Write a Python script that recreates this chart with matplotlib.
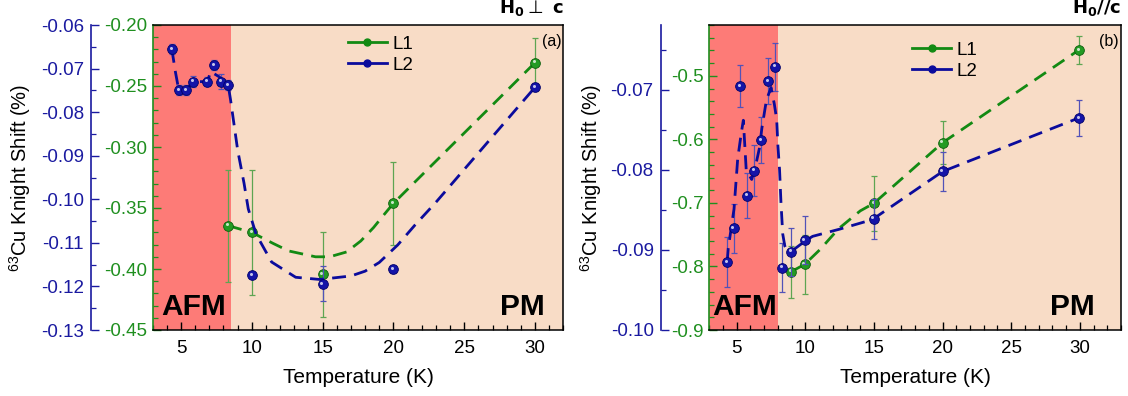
import matplotlib
matplotlib.use('Agg')
import matplotlib.pyplot as plt
from matplotlib.ticker import MultipleLocator, FormatStrFormatter
from matplotlib.lines import Line2D
from matplotlib.transforms import offset_copy

plt.rcParams['font.family'] = ['Liberation Sans', 'DejaVu Sans']
plt.rcParams['mathtext.fontset'] = 'custom'
plt.rcParams['mathtext.rm'] = 'Liberation Sans'
plt.rcParams['mathtext.it'] = 'Liberation Sans:italic'
plt.rcParams['mathtext.bf'] = 'Liberation Sans:bold'

# ---- panel (a): H0 perp c ----
Ta_L1 = [8.33, 10, 15, 20, 30]
Ka_L1 = [-0.3645, -0.370, -0.4044, -0.3462, -0.2309]
Ea_L1 = [0.046, 0.051, 0.035, 0.034, 0.0205]
Ta_L2 = [4.35, 4.84, 5.35, 5.84, 6.85, 7.35, 7.84, 8.33, 10, 15, 20, 30]
Ka_L2 = [-0.0655, -0.0749, -0.0749, -0.0730, -0.0730, -0.0692, -0.0730, -0.0738,
         -0.1174, -0.1194, -0.1160, -0.0743]
Ea_L2 = [0.00115, 0.0012, 0.0012, 0.0013, 0.0011, 0.0012, 0.0018, 0.0012,
         0.00065, 0.004, 0.0009, 0.0009]
# guide-to-the-eye curves
guide_a_T1 = [8.33, 10, 11.5, 12.6, 14.5, 15.5, 16.7, 17.7, 18.6, 19.3, 20, 30]
guide_a_K1 = [-0.3645, -0.370, -0.379, -0.3852, -0.390, -0.390, -0.386, -0.377,
              -0.366, -0.356, -0.3462, -0.2309]
guide_a_T2 = [4.35, 4.6, 4.84, 5.35, 5.84, 6.85, 7.1, 7.7, 8.0, 8.33, 8.5, 9.0, 9.45,
              9.75, 10.3, 11.4, 13.1, 14.8, 17.0, 18.0, 19.0, 20.3, 21.5, 23.0, 30.0]
guide_a_K2 = [-0.0655, -0.0707, -0.0749, -0.0749, -0.0730, -0.0730, -0.0707, -0.0719,
              -0.0728, -0.0738, -0.0772, -0.0887, -0.0963, -0.1022, -0.1080, -0.1144,
              -0.1179, -0.1184, -0.1176, -0.1165, -0.1145, -0.1105, -0.1060, -0.1007, -0.0743]

# ---- panel (b): H0 // c ----
Tb_L1 = [8.96, 9.95, 15, 20, 29.94]
Kb_L1 = [-0.8083, -0.7967, -0.7005, -0.6052, -0.4592]
Eb_L1 = [0.0406, 0.046, 0.043, 0.034, 0.022]
Tb_L2 = [4.30, 4.78, 5.27, 5.78, 6.29, 6.77, 7.28, 7.79, 8.28, 8.96, 9.95, 14.97, 20, 29.94]
Kb_L2 = [-0.0915, -0.0873, -0.0695, -0.0832, -0.0801, -0.0763, -0.0689, -0.0671,
         -0.0922, -0.0902, -0.0888, -0.0861, -0.0802, -0.0735]
Eb_L2 = [0.0031, 0.0031, 0.0026, 0.0028, 0.0032, 0.0029, 0.0029, 0.003, 0.0031,
         0.003, 0.003, 0.0025, 0.0024, 0.00225]
guide_b_T1 = [8.96, 9.95, 11.1, 12.4, 14.0, 15.0, 20, 29.94]
guide_b_K1 = [-0.8083, -0.7967, -0.7727, -0.741, -0.7125, -0.7005, -0.6052, -0.4592]
guide_b_T2 = [4.30, 4.38, 4.80, 5.07, 5.33, 5.48, 5.69, 6.09, 6.41, 6.65, 6.83, 7.16,
              7.50, 7.74, 7.91, 8.00, 8.12, 8.22, 8.35, 8.50, 8.72, 8.96, 10.05, 10.53,
              12.5, 14.5, 14.97, 20.0, 29.94]
guide_b_K2 = [-0.0915, -0.0898, -0.0849, -0.0786, -0.0754, -0.0738, -0.0800, -0.0812,
              -0.0792, -0.0773, -0.0748, -0.0713, -0.0697, -0.0718, -0.0737, -0.0770,
              -0.0800, -0.0840, -0.0880, -0.0895, -0.0902, -0.0902, -0.0888, -0.0883,
              -0.0874, -0.0864, -0.0861, -0.0802, -0.0735]

green = '#138a13'
green_tick = '#1f8f1f'
green_err = '#5ea552'
blue = '#0b0b9c'
blue_tick = '#1a1aa0'
blue_err = '#5252b8'
afm_color = '#fd7b77'
pm_color = '#f8dcc6'
ylabel = '$^{63}$Cu Knight Shift (%)'

fig = plt.figure(figsize=(11.28, 3.96), dpi=100)
ax_a = fig.add_axes([152.7/1128, 66/396, 410.6/1128, 305/396])
ax_b = fig.add_axes([709.3/1128, 66/396, 411.7/1128, 305/396])


def draw_series(ax, T, K, E, gT, gK, color, ecolor, mfc, mec):
    ax.errorbar(T, K, yerr=E, fmt='none', ecolor=ecolor, elinewidth=0.9,
                capsize=2.5, capthick=0.9, zorder=3)
    line, = ax.plot(gT, gK, color=color, lw=2.0, zorder=4)
    line.set_dashes((5, 3))
    ax.plot(T, K, 'o', ms=7, mfc=mfc, mec=mec, mew=0.6, zorder=5)
    tr = offset_copy(ax.transData, fig=fig, x=-0.9, y=0.9, units='points')
    ax.plot(T, K, 'o', ms=2.2, color='white', alpha=0.75, mew=0, transform=tr, zorder=6)


def setup_panel(ax, xlim, afm_end, ylim1, ylim2, maj1, min1, fmt1, maj2, min2,
                blue_offset, label_x, title, tag, leg_pos, afm_x, pm_x):
    ax.axvspan(xlim[0], afm_end, color=afm_color, lw=0, zorder=0)
    ax.axvspan(afm_end, xlim[1], color=pm_color, lw=0, zorder=0)
    ax.set_xlim(xlim)
    ax.set_ylim(ylim1)
    ax.xaxis.set_major_locator(MultipleLocator(5))
    ax.xaxis.set_minor_locator(MultipleLocator(1))
    ax.yaxis.set_major_locator(MultipleLocator(maj1))
    ax.yaxis.set_minor_locator(MultipleLocator(min1))
    ax.yaxis.set_major_formatter(FormatStrFormatter(fmt1))
    ax.tick_params(axis='x', which='both', direction='in', top=False, labelsize=13.5, pad=7)
    ax.tick_params(axis='x', which='major', length=6, width=1)
    ax.tick_params(axis='x', which='minor', length=3.5, width=0.9)
    ax.tick_params(axis='y', which='both', direction='in', right=False, colors=green_tick,
                   labelsize=13.5, pad=4)
    ax.tick_params(axis='y', which='major', length=6, width=1)
    ax.tick_params(axis='y', which='minor', length=3.5, width=0.9)
    ax.spines['left'].set_color(green_tick)
    ax.spines['left'].set_linewidth(1.2)
    for s in ['top', 'right', 'bottom']:
        ax.spines[s].set_linewidth(1.1)
    ax.set_xlabel('Temperature (K)', fontsize=15, labelpad=8)

    ax2 = ax.twinx()
    ax2.set_ylim(ylim2)
    ax2.yaxis.set_ticks_position('left')
    ax2.yaxis.set_label_position('left')
    ax2.spines['left'].set_position(('outward', blue_offset))
    ax2.spines['left'].set_color(blue_tick)
    ax2.spines['left'].set_linewidth(1.2)
    for s in ['top', 'right', 'bottom']:
        ax2.spines[s].set_visible(False)
    ax2.yaxis.set_major_locator(MultipleLocator(maj2))
    ax2.yaxis.set_minor_locator(MultipleLocator(min2))
    ax2.yaxis.set_major_formatter(FormatStrFormatter('%.2f'))
    ax2.tick_params(axis='y', which='both', direction='in', colors=blue_tick,
                    labelsize=13.5, pad=5)
    ax2.tick_params(axis='y', which='major', length=6, width=1)
    ax2.tick_params(axis='y', which='minor', length=3.5, width=0.9)
    ax2.set_ylabel(ylabel, fontsize=14.5)
    ax2.yaxis.set_label_coords(label_x, 0.5)

    ax.text(1.0, 1.022, title, transform=ax.transAxes, ha='right', va='bottom',
            fontsize=13, math_fontfamily='dejavusans')
    ax.text(0.995, 0.97, tag, transform=ax.transAxes, ha='right', va='top', fontsize=11.5)
    ax.text(afm_x, 0.05, 'AFM', transform=ax.transAxes, ha='left', va='baseline',
            fontsize=21.5, fontweight='bold')
    ax.text(pm_x, 0.05, 'PM', transform=ax.transAxes, ha='right', va='baseline',
            fontsize=21.5, fontweight='bold')

    handles = [Line2D([], [], color=green, lw=2, marker='o', ms=5, mfc=green, mec=green),
               Line2D([], [], color=blue, lw=2, marker='o', ms=5, mfc=blue, mec=blue)]
    ax2.legend(handles, ['L1', 'L2'], loc='upper left', bbox_to_anchor=leg_pos,
               frameon=False, fontsize=13.5, handlelength=2.1, handletextpad=0.3,
               labelspacing=0.2, borderpad=0, borderaxespad=0)
    return ax2


ax2_a = setup_panel(ax_a, (3, 32), 8.5, (-0.45, -0.20), (-0.13, -0.06), 0.05, 0.01, '%.2f',
                    0.01, 0.005, 44.6, -0.292, r'$\mathbf{H_0}\bot\ \mathbf{c}$', '(a)',
                    (0.475, 0.965), 0.022, 0.955)
ax2_b = setup_panel(ax_b, (3, 33), 8.0, (-0.9, -0.42), (-0.10, -0.0619), 0.1, 0.02, '%.1f',
                    0.01, 0.005, 35.0, -0.256, r'$\mathbf{H_0//c}$', '(b)',
                    (0.492, 0.945), 0.008, 0.937)

draw_series(ax_a, Ta_L1, Ka_L1, Ea_L1, guide_a_T1, guide_a_K1, green, green_err, '#239b23', '#0d5e0d')
draw_series(ax2_a, Ta_L2, Ka_L2, Ea_L2, guide_a_T2, guide_a_K2, blue, blue_err, '#1414a8', '#000068')
draw_series(ax_b, Tb_L1, Kb_L1, Eb_L1, guide_b_T1, guide_b_K1, green, green_err, '#239b23', '#0d5e0d')
draw_series(ax2_b, Tb_L2, Kb_L2, Eb_L2, guide_b_T2, guide_b_K2, blue, blue_err, '#1414a8', '#000068')

fig.savefig('out.png', dpi=100)
